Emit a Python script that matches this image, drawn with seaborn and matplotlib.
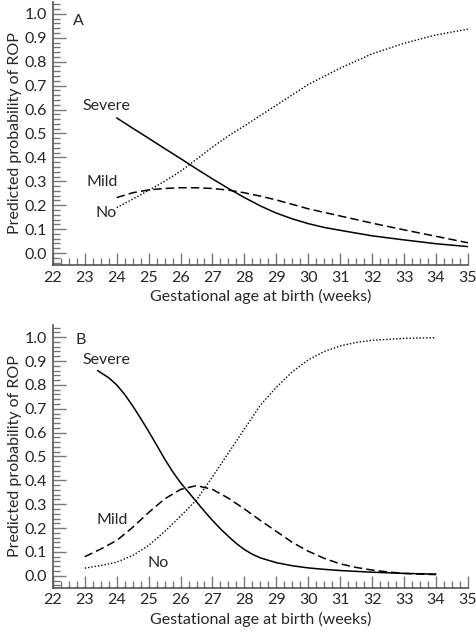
import numpy as np
import pandas as pd
import matplotlib
matplotlib.use("Agg")
import matplotlib.pyplot as plt
import seaborn as sns
from matplotlib.ticker import MultipleLocator

# Panel A curves
a_severe_x = [24, 24.5, 25, 25.5, 26, 26.5, 27, 27.5, 28, 28.5, 29, 29.5, 30, 30.5, 31, 32, 33, 34, 35]
a_severe_y = [0.565, 0.522, 0.48, 0.437, 0.395, 0.352, 0.31, 0.27, 0.232, 0.197, 0.167, 0.143, 0.123, 0.107, 0.095, 0.072, 0.055, 0.039, 0.027]
a_mild_x = [24, 24.5, 25, 25.5, 26, 26.5, 27, 27.5, 28, 28.5, 29, 30, 31, 32, 33, 34, 35]
a_mild_y = [0.232, 0.252, 0.264, 0.27, 0.273, 0.273, 0.27, 0.263, 0.252, 0.238, 0.222, 0.185, 0.155, 0.125, 0.097, 0.07, 0.043]
a_no_x = [24, 24.5, 25, 25.5, 26, 26.5, 27, 27.5, 28, 29, 30, 31, 32, 33, 34, 35]
a_no_y = [0.19, 0.225, 0.262, 0.30, 0.342, 0.392, 0.443, 0.49, 0.532, 0.618, 0.705, 0.773, 0.833, 0.877, 0.912, 0.936]

# Panel B curves
b_severe_x = [23.4, 23.75, 24, 24.25, 24.5, 24.75, 25, 25.25, 25.5, 25.75, 26, 26.25, 26.5, 26.75,
              27, 27.25, 27.5, 27.75, 28, 28.25, 28.5, 29, 29.5, 30, 30.5, 31, 32, 33, 34]
b_severe_y = [0.86, 0.83, 0.80, 0.76, 0.712, 0.66, 0.605, 0.548, 0.49, 0.437, 0.39, 0.35, 0.31, 0.27,
              0.232, 0.197, 0.165, 0.135, 0.11, 0.09, 0.075, 0.055, 0.042, 0.033, 0.027, 0.022, 0.015, 0.01, 0.007]
b_mild_x = [23, 23.5, 24, 24.5, 25, 25.5, 26, 26.5, 27, 27.5, 28, 28.5, 29, 29.5, 30, 30.5, 31, 31.5, 32, 32.5, 33, 33.5, 34]
b_mild_y = [0.08, 0.112, 0.148, 0.203, 0.265, 0.322, 0.362, 0.378, 0.362, 0.325, 0.28, 0.232, 0.186, 0.14, 0.103,
            0.073, 0.05, 0.035, 0.024, 0.016, 0.01, 0.007, 0.005]
b_no_x = [23, 23.5, 24, 24.5, 25, 25.5, 26, 26.5, 27, 27.5, 28, 28.5, 29, 29.5, 30, 30.5, 31, 31.5, 32, 33, 34]
b_no_y = [0.032, 0.043, 0.057, 0.085, 0.127, 0.185, 0.25, 0.318, 0.415, 0.515, 0.615, 0.715, 0.79, 0.855, 0.905,
          0.94, 0.963, 0.978, 0.987, 0.995, 0.998]

styles = {"Severe": "-", "Mild": (0, (5.5, 2.7)), "No": (0, (1, 1.4))}

sns.set_style("ticks")
plt.rcParams["font.family"] = ["Lato", "DejaVu Sans"]

fig = plt.figure(figsize=(4.76, 6.34), dpi=100)
ax_a = fig.add_axes([0.111, 0.582, 0.872, 0.415])
ax_b = fig.add_axes([0.111, 0.073, 0.872, 0.414])


def draw_panel(ax, series, letter, labels):
    for name, xs, ys in series:
        df = pd.DataFrame({"x": xs, "y": ys})
        sns.lineplot(data=df, x="x", y="y", ax=ax, color="black",
                     linestyle=styles[name], lw=1.1 if name != "No" else 1.0)
    ax.set_xlim(22, 35)
    ax.set_ylim(-0.05, 1.05)
    ax.xaxis.set_major_locator(MultipleLocator(1))
    ax.xaxis.set_minor_locator(MultipleLocator(0.25))
    ax.yaxis.set_minor_locator(MultipleLocator(0.02))
    ax.set_yticks(np.arange(0, 1.01, 0.1))
    ax.set_yticklabels([f"{v:.1f}" for v in np.arange(0, 1.01, 0.1)])
    ax.tick_params(which="major", direction="in", length=9, width=1.0,
                   color="#777777", labelsize=11.5, pad=4)
    ax.tick_params(which="minor", direction="in", length=5, width=1.0,
                   color="#777777")
    for side in ["top", "right"]:
        ax.spines[side].set_visible(False)
    for side in ["left", "bottom"]:
        ax.spines[side].set_color("#555555")
        ax.spines[side].set_linewidth(1.2)
    ax.set_xlabel("Gestational age at birth (weeks)", fontsize=11.5, labelpad=3)
    ax.set_ylabel("Predicted probability of ROP", fontsize=11.5, labelpad=2)
    ax.text(labels["letter"][0], labels["letter"][1], letter, fontsize=11.5,
            va="center", ha="left")
    for name in ["Severe", "Mild", "No"]:
        lx, ly = labels[name]
        ax.text(lx, ly, name, fontsize=11.5, va="center", ha="left")


draw_panel(ax_a,
           [("Severe", a_severe_x, a_severe_y),
            ("Mild", a_mild_x, a_mild_y),
            ("No", a_no_x, a_no_y)],
           "A",
           {"letter": (22.62, 0.97), "Severe": (22.93, 0.615),
            "Mild": (23.05, 0.297), "No": (23.33, 0.167)})

draw_panel(ax_b,
           [("Severe", b_severe_x, b_severe_y),
            ("Mild", b_mild_x, b_mild_y),
            ("No", b_no_x, b_no_y)],
           "B",
           {"letter": (22.7, 0.99), "Severe": (22.93, 0.905),
            "Mild": (23.38, 0.235), "No": (24.95, 0.055)})

fig.savefig("out.png", dpi=100)
